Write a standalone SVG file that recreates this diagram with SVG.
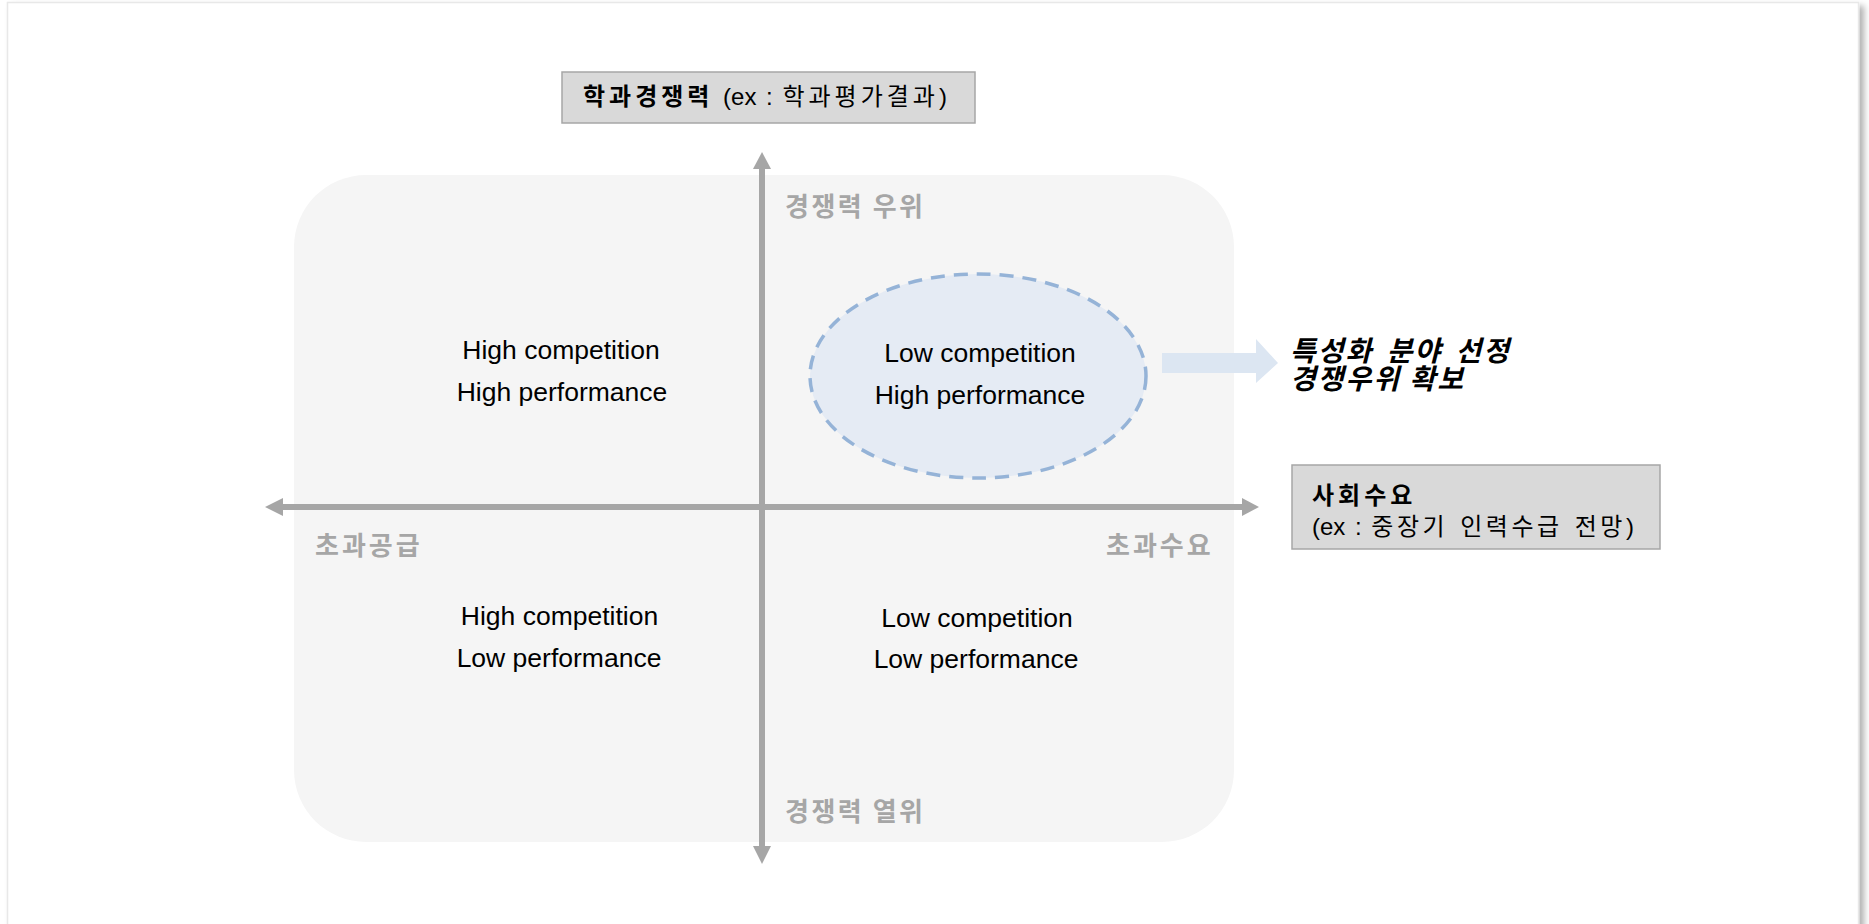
<svg xmlns="http://www.w3.org/2000/svg" width="1869" height="924" viewBox="0 0 1869 924">
  <defs>
    <filter id="shadow" x="-5%" y="-5%" width="110%" height="110%">
      <feDropShadow dx="5" dy="4" stdDeviation="3" flood-color="#000" flood-opacity="0.3"/>
    </filter>
    <style>
      .ko { font-family: "Liberation Sans", "Noto Sans CJK KR", sans-serif; font-size: 24px; fill: #000; }
      .kosp { letter-spacing: 4px; }
      .lat { word-spacing: 3px; }
      .quad { font-family: "Liberation Sans", Arial, sans-serif; font-size: 26.5px; fill: #000; text-anchor: middle; }
      .axislbl { font-family: "Noto Sans CJK KR", sans-serif; font-size: 26px; font-weight: bold; fill: #a6a6a6; }
      .axis { stroke: #a6a6a6; stroke-width: 6; fill: none; }
      .head { fill: #a6a6a6; }
      .box { fill: #d9d9d9; stroke: #a6a6a6; stroke-width: 1.5; }
      .result { font-family: "Noto Sans CJK KR", sans-serif; font-size: 28px; font-weight: bold; font-style: italic; letter-spacing: 2px; fill: #000; }
    </style>
  </defs>

  <rect id="frame" x="7.5" y="2.5" width="1851" height="940" fill="#ffffff" stroke="#e8e8e8" stroke-width="1.5" filter="url(#shadow)"/>

  <g id="background">
    <rect x="294" y="175" width="940" height="667" rx="72" ry="72" fill="#f5f5f5"/>
  </g>

  <g id="connectors">
    <line class="axis" x1="762" y1="846" x2="762" y2="168"/>
    <path class="head" d="M762,152 L753,169 L771,169 Z"/>
    <path class="head" d="M762,864 L753,846 L771,846 Z"/>
    <line class="axis" x1="283" y1="507" x2="1242" y2="507"/>
    <path class="head" d="M265,507 L283,498 L283,516 Z"/>
    <path class="head" d="M1259,507 L1242,498 L1242,516 Z"/>
    <path id="blue-arrow" d="M1162,353 L1256,353 L1256,339 L1278,363 L1256,383 L1256,373 L1162,373 Z" fill="#dce6f2"/>
  </g>

  <g id="y-axis-title">
    <rect class="box" x="562" y="72" width="413" height="51"/>
    <text x="583" y="105" class="ko"><tspan class="kosp" font-weight="bold">학과경쟁력</tspan><tspan class="lat" word-spacing="4"> (ex : </tspan><tspan class="kosp">학과평가결과</tspan>)</text>
  </g>

  <g id="x-axis-title">
    <rect class="box" x="1292" y="465" width="368" height="84"/>
    <text x="1312" y="504" class="ko kosp" font-weight="bold">사회수요</text>
    <text x="1312" y="535" class="ko"><tspan class="lat">(ex : </tspan><tspan letter-spacing="3.5" word-spacing="2">중장기 인력수급 전망</tspan>)</text>
  </g>

  <g id="axis-labels">
    <text x="785" y="216" class="axislbl" letter-spacing="2.5">경쟁력 우위</text>
    <text x="785" y="821" class="axislbl" letter-spacing="2.5">경쟁력 열위</text>
    <text x="315" y="555" class="axislbl" letter-spacing="3">초과공급</text>
    <text x="1106" y="555" class="axislbl" letter-spacing="3">초과수요</text>
  </g>

  <g id="q-high-high">
    <text class="quad" x="561" y="359">High competition</text>
    <text class="quad" x="562" y="401">High performance</text>
  </g>

  <g id="q-low-high">
    <ellipse cx="978" cy="376" rx="168" ry="102" fill="#e5ebf4" stroke="#95b3d7" stroke-width="3.5" stroke-dasharray="14,9"/>
    <text class="quad" x="980" y="362">Low competition</text>
    <text class="quad" x="980" y="404">High performance</text>
  </g>

  <g id="q-high-low">
    <text class="quad" x="559.5" y="625">High competition</text>
    <text class="quad" x="559" y="667">Low performance</text>
  </g>

  <g id="q-low-low">
    <text class="quad" x="977" y="627">Low competition</text>
    <text class="quad" x="976" y="668">Low performance</text>
  </g>

  <g id="result">
    <text x="1290" y="361" class="result" letter-spacing="3" word-spacing="5">특성화 분야 선정</text>
    <text x="1290" y="389" class="result">경쟁우위 확보</text>
  </g>
</svg>
